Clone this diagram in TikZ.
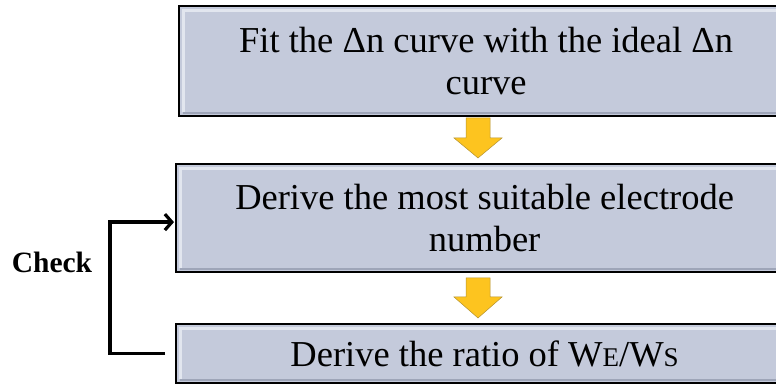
\documentclass[tikz,border=0pt]{standalone}
\usepackage{fontspec}
\setmainfont{Liberation Serif}
\usetikzlibrary{arrows.meta,calc}
\definecolor{boxfill}{HTML}{C4CADB}
\definecolor{boxhi}{HTML}{E2E6EF}
\definecolor{boxlo}{HTML}{9EA5B8}
\definecolor{arrfill}{HTML}{FDC41F}
\definecolor{arrline}{HTML}{B39230}
\tikzset{
  x=1pt,y=1pt,
  stepbox/.style={draw=black,line width=2.2pt,fill=boxfill,inner sep=0pt,
    align=center,font=\fontsize{36.5}{42}\selectfont,anchor=north west,
    path picture={
      \draw[boxhi,line width=3pt] ([xshift=4pt,yshift=4pt]path picture bounding box.south west) |- ([xshift=-4pt,yshift=-4pt]path picture bounding box.north east);
      \draw[boxlo,line width=2pt] ([xshift=4pt,yshift=3pt]path picture bounding box.south west) -- ([xshift=-4pt,yshift=3pt]path picture bounding box.south east);
    }},
  blockarrow/.style={fill=arrfill,draw=arrline,line width=0.5pt},
  loopline/.style={line width=3.4pt,line join=miter,-{Straight Barb[length=7pt,width=16pt,line width=3.2pt]}}
}
\begin{document}
\begin{tikzpicture}
\useasboundingbox (0,0) rectangle (776,387);
\begin{scope}
\clip (0,0) rectangle (776,387);
\node[stepbox,minimum width=614pt,minimum height=110pt] (b1) at (178,382) {Fit the Δn curve with the ideal Δn\\curve};
\node[stepbox,minimum width=617pt,minimum height=108pt] (b2) at (175,224) {Derive the most suitable electrode\\number};
\node[stepbox,minimum width=617pt,minimum height=59pt] (b3) at (175,64) {Derive the ratio of W{\fontsize{27}{30}\selectfont E}/W{\fontsize{27}{30}\selectfont S}};
\end{scope}
\node[font=\bfseries\fontsize{29.5}{32}\selectfont] (chk) at (52,125) {Check};
% block arrows
\draw[blockarrow] (466,269) -- (490,269) -- (490,249) -- (502,249) -- (478,229) -- (454,249) -- (466,249) -- cycle;
\draw[blockarrow] (466,109) -- (490,109) -- (490,90) -- (502,90) -- (478,69) -- (454,90) -- (466,90) -- cycle;
% loop
\draw[loopline] ($(b3.west)+(-10,0)$) -- ++(-55,0) |- ($(b2.west)+(-1,-4)$);
\end{tikzpicture}
\end{document}
